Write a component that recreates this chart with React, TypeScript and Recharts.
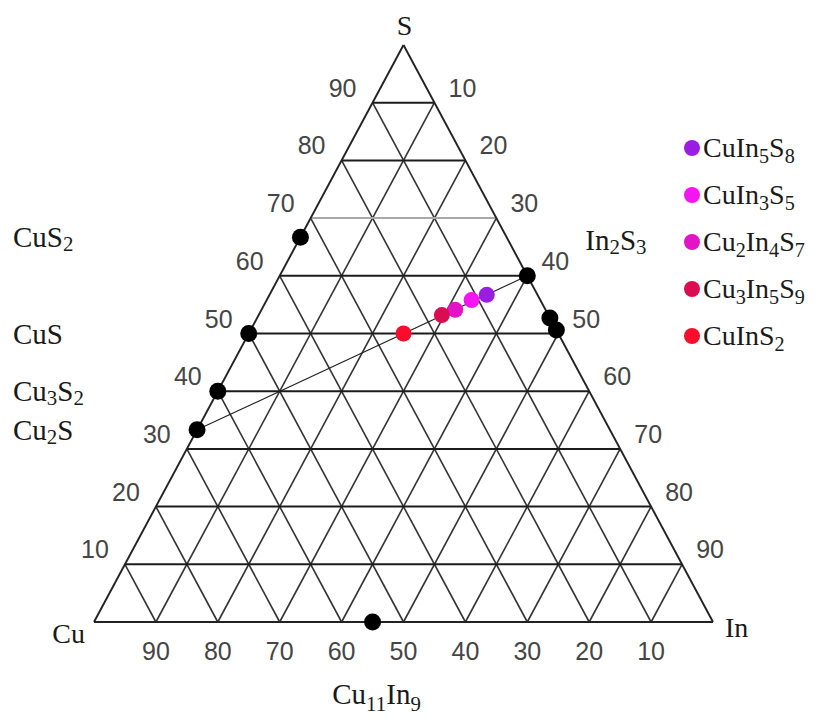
import React from 'react';
import { ScatterChart, XAxis, YAxis, Scatter, ReferenceLine, Legend } from 'recharts';

// ---------- data ----------
const gridLevels = [10, 20, 30, 40, 50, 60, 70, 80, 90];
const sTickLabels = ['10', '20', '30', '40', '50', '60', '70', '80', '90'];
const inTickLabels = ['10', '20', '30', '40', '50', '60', '70', '80', '90'];
const cuTickLabels = ['90', '80', '70', '60', '50', '40', '30', '20', '10'];

const vertexNames = ['Cu', 'In', 'S'];
const vertexIn = [0, 100, 0];
const vertexS = [0, 0, 100];

const binaryNames = ['CuS2', 'CuS', 'Cu3S2', 'Cu2S', 'In2S3', 'In6S7', 'InS', 'Cu11In9'];
const binaryCu = [33.3, 50, 60, 66.7, 0, 0, 0, 55];
const binaryIn = [0, 0, 0, 0, 40, 47.3, 49.4, 45];
const binaryS = [66.7, 50, 40, 33.3, 60, 52.7, 50.6, 0];
const leftLabelled = ['CuS2', 'CuS', 'Cu3S2', 'Cu2S'];

const ternaryNames = ['CuIn5S8', 'CuIn3S5', 'Cu2In4S7', 'Cu3In5S9', 'CuInS2'];
const ternaryCu = [8.2, 11.1, 14.6, 17.2, 25];
const ternaryIn = [35.1, 33.1, 31.3, 29.6, 25];
const ternaryS = [56.7, 55.8, 54.1, 53.2, 50];
const ternaryColors = ['#9a1ee2', '#f514f2', '#e214c6', '#dc0c52', '#fa0c2c'];

const tieLine = ['Cu2S', 'In2S3'];

// ---------- helpers ----------
const toX = (inn: number, s: number) => inn + s / 2;
const toY = (s: number) => s;

const W = 814;
const H = 709;
const M = { top: 37, right: 109, bottom: 95, left: 86 };

const SERIF = '"Liberation Serif", "Times New Roman", serif';
const SANS = '"Liberation Sans", Arial, sans-serif';

function formulaSpans(text: string, size: number) {
  const parts = text.match(/[A-Za-z]+|\d+/g) || [];
  let down = false;
  const sub = size * 0.72;
  const shift = size * 0.24;
  return parts.map((p, i) => {
    const isDigit = /\d/.test(p[0]);
    let dy = 0;
    if (isDigit && !down) {
      dy = shift;
      down = true;
    } else if (!isDigit && down) {
      dy = -shift;
      down = false;
    }
    return (
      <tspan key={i} dy={dy} fontSize={isDigit ? sub : size}>
        {p}
      </tspan>
    );
  });
}

function formulaHtml(text: string) {
  const parts = text.match(/[A-Za-z]+|\d+/g) || [];
  return parts.map((p, i) =>
    /\d/.test(p[0]) ? (
      <span key={i} style={{ fontSize: '0.72em', position: 'relative', top: '0.3em' }}>
        {p}
      </span>
    ) : (
      <span key={i}>{p}</span>
    )
  );
}

// ---------- derived series ----------
const binaryData = binaryNames.map((n, i) => ({
  name: n,
  cu: binaryCu[i],
  x: toX(binaryIn[i], binaryS[i]),
  y: toY(binaryS[i]),
}));

const ternarySeries = ternaryNames.map((n, i) => [
  { name: n, x: toX(ternaryIn[i], ternaryS[i]), y: toY(ternaryS[i]), cu: ternaryCu[i] },
]);

const vertexData = vertexNames.map((n, i) => ({
  name: n,
  x: toX(vertexIn[i], vertexS[i]),
  y: toY(vertexS[i]),
}));

const sTickData = gridLevels.map((k, i) => ({ label: sTickLabels[i], x: toX(0, k), y: toY(k) }));
const inTickData = gridLevels.map((k, i) => ({ label: inTickLabels[i], x: toX(k, 100 - k), y: toY(100 - k) }));
const cuTickData = gridLevels.map((k, i) => ({ label: cuTickLabels[i], x: toX(k, 0), y: toY(0) }));

const leftLabelData = binaryData.filter((d) => leftLabelled.includes(d.name));
const in2s3 = binaryData.filter((d) => d.name === 'In2S3');
const cu11in9 = binaryData.filter((d) => d.name === 'Cu11In9');

const tieA = binaryData.find((d) => d.name === tieLine[0])!;
const tieB = binaryData.find((d) => d.name === tieLine[1])!;

const horizSegs = gridLevels.map((k) => ({ k, seg: [{ x: k / 2, y: k }, { x: 100 - k / 2, y: k }] }));
const constInSegs = gridLevels.map((k) => [{ x: k, y: 0 }, { x: k + (100 - k) / 2, y: 100 - k }]);
const constCuSegs = gridLevels.map((k) => [{ x: 100 - k, y: 0 }, { x: (100 - k) / 2, y: 100 - k }]);
const edgeSegs = [
  [{ x: 0, y: 0 }, { x: 100, y: 0 }],
  [{ x: 0, y: 0 }, { x: 50, y: 100 }],
  [{ x: 100, y: 0 }, { x: 50, y: 100 }],
];

// ---------- shapes ----------
const tickText = (dx: number, dy: number) => (p: any) => (
  <text
    x={p.cx + dx}
    y={p.cy + dy}
    textAnchor="middle"
    dominantBaseline="central"
    fontFamily={SANS}
    fontSize={25}
    fill="#454545"
  >
    {p.payload.label}
  </text>
);

const vertexOffsets: Record<string, { dx: number; dy: number; anchor: string }> = {
  Cu: { dx: -9, dy: 21, anchor: 'end' },
  In: { dx: 12, dy: 15, anchor: 'start' },
  S: { dx: 1, dy: -10, anchor: 'middle' },
};

const vertexShape = (p: any) => {
  const o = vertexOffsets[p.payload.name];
  return (
    <text x={p.cx + o.dx} y={p.cy + o.dy} textAnchor={o.anchor} fontFamily={SERIF} fontSize={28} fill="#1a1a1a">
      {p.payload.name}
    </text>
  );
};

const leftLabelShape = (p: any) => (
  <text x={5} y={p.cy} dominantBaseline="central" fontFamily={SERIF} fontSize={29} fill="#1a1a1a">
    {formulaSpans(p.payload.name, 29)}
  </text>
);

const in2s3Shape = (p: any) => (
  <text x={p.cx + 58} y={p.cy - 36} dominantBaseline="central" fontFamily={SERIF} fontSize={29} fill="#1a1a1a">
    {formulaSpans(p.payload.name, 29)}
  </text>
);

const cu11Shape = (p: any) => (
  <text x={p.cx + 4} y={p.cy + 82} textAnchor="middle" fontFamily={SERIF} fontSize={29} fill="#1a1a1a">
    {formulaSpans(p.payload.name, 29)}
  </text>
);

const blackDot = (p: any) => <circle cx={p.cx} cy={p.cy} r={8.5} fill="#000" />;
const colorDot = (color: string) => (p: any) => <circle cx={p.cx} cy={p.cy} r={8} fill={color} />;

const LegendContent = () => (
  <div style={{ fontFamily: SERIF, fontSize: 28, color: '#1a1a1a', lineHeight: 1, whiteSpace: 'nowrap' }}>
    {ternaryNames.map((n, i) => (
      <div key={n} style={{ display: 'flex', alignItems: 'center', height: 47 }}>
        <span
          style={{
            display: 'inline-block',
            width: 16,
            height: 16,
            borderRadius: '50%',
            background: ternaryColors[i],
            marginRight: 3,
          }}
        />
        <span>{formulaHtml(n)}</span>
      </div>
    ))}
  </div>
);

export default function App() {
  return (
    <ScatterChart width={W} height={H} margin={M} style={{ background: '#fff' }}>
      <XAxis type="number" dataKey="x" domain={[0, 100]} hide />
      <YAxis type="number" dataKey="y" domain={[0, 100]} hide />

      {constInSegs.map((seg, i) => (
        <ReferenceLine key={`ci${i}`} segment={seg} stroke="#333" strokeWidth={1.6} ifOverflow="visible" />
      ))}
      {constCuSegs.map((seg, i) => (
        <ReferenceLine key={`cc${i}`} segment={seg} stroke="#333" strokeWidth={1.6} ifOverflow="visible" />
      ))}
      {horizSegs.map((h, i) => (
        <ReferenceLine
          key={`h${i}`}
          segment={h.seg}
          stroke={h.k === 70 ? '#a8a8a8' : '#1c1c1c'}
          strokeWidth={2}
          ifOverflow="visible"
        />
      ))}
      {edgeSegs.map((seg, i) => (
        <ReferenceLine key={`e${i}`} segment={seg} stroke="#222" strokeWidth={1.9} ifOverflow="visible" />
      ))}
      <ReferenceLine
        segment={[
          { x: tieA.x, y: tieA.y },
          { x: tieB.x, y: tieB.y },
        ]}
        stroke="#222"
        strokeWidth={1.1}
        ifOverflow="visible"
      />

      <Scatter name="binary" data={binaryData} shape={blackDot} isAnimationActive={false} legendType="none" />
      {ternarySeries.map((d, i) => (
        <Scatter
          key={ternaryNames[i]}
          name={ternaryNames[i]}
          data={d}
          fill={ternaryColors[i]}
          shape={colorDot(ternaryColors[i])}
          isAnimationActive={false}
        />
      ))}

      <Scatter data={sTickData} shape={tickText(-30, -15)} isAnimationActive={false} legendType="none" />
      <Scatter data={inTickData} shape={tickText(28, -15)} isAnimationActive={false} legendType="none" />
      <Scatter data={cuTickData} shape={tickText(0, 29)} isAnimationActive={false} legendType="none" />
      <Scatter data={vertexData} shape={vertexShape} isAnimationActive={false} legendType="none" />
      <Scatter data={leftLabelData} shape={leftLabelShape} isAnimationActive={false} legendType="none" />
      <Scatter data={in2s3} shape={in2s3Shape} isAnimationActive={false} legendType="none" />
      <Scatter data={cu11in9} shape={cu11Shape} isAnimationActive={false} legendType="none" />

      <Legend
        layout="horizontal"
        verticalAlign="middle"
        align="center"
        content={<LegendContent />}
        wrapperStyle={{ position: 'absolute', left: 676, top: 116, width: 140, height: 'auto' }}
      />
    </ScatterChart>
  );
}
